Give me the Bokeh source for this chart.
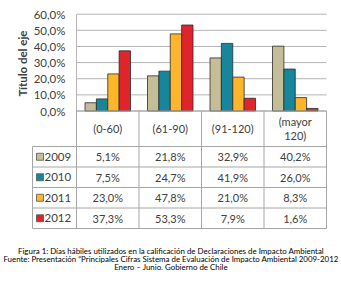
from math import pi
from bokeh.plotting import figure
from bokeh.models import Range1d, ColumnDataSource
from bokeh.core.properties import value
from bokeh.embed import file_html
from bokeh.resources import INLINE

# ---- data ----
categories = ["(0-60)", "(61-90)", "(91-120)", "(mayor\n120)"]
years = ["2009", "2010", "2011", "2012"]
v2009 = [5.1, 21.8, 32.9, 40.2]
v2010 = [7.5, 24.7, 41.9, 26.0]
v2011 = [23.0, 47.8, 21.0, 8.3]
v2012 = [37.3, 53.3, 7.9, 1.6]
series = [v2009, v2010, v2011, v2012]
colors = ["#C4BD97", "#17869B", "#FDB52B", "#E0242C"]
y_ticks = [0, 10, 20, 30, 40, 50, 60]
y_tick_labels = ["0,0%", "10,0%", "20,0%", "30,0%", "40,0%", "50,0%", "60,0%"]
axis_title = "Título del eje"
caption = [
    "Figura 1: Días hábiles utilizados en la calificación de Declaraciones de Impacto Ambiental",
    "Fuente: Presentación \u201cPrincipales Cifras Sistema de Evaluación de Impacto Ambiental 2009-2012",
    "Enero \u2013 Junio. Gobierno de Chile",
]

# ---- layout constants (pixels) ----
W, H = 341, 283
plot_left, plot_right = 76, 326
y0_px, y60_px = 110.5, 13.7
px_per_cat = (plot_right - plot_left) / len(categories)
px_per_pct = (y0_px - y60_px) / 60.0
FONT = "Lato"
TXT = "#404040"
GRID = "#B4B4B4"

x_start = -0.5 - plot_left / px_per_cat
x_end = x_start + W / px_per_cat
y_end = 60 + y60_px / px_per_pct
y_start = -(H - y0_px) / px_per_pct

p = figure(width=W, height=H, x_range=Range1d(x_start, x_end), y_range=Range1d(y_start, y_end),
           min_border=0, toolbar_location=None, output_backend="svg",
           x_axis_location=None, y_axis_location=None, outline_line_color=None)
p.xgrid.visible = False
p.ygrid.visible = False
p.extra_x_ranges = {"px": Range1d(0, W)}
p.extra_y_ranges = {"px": Range1d(H, 0)}

n = len(categories)
# gridlines
p.segment(x0=[-0.5] * len(y_ticks), x1=[n - 0.5] * len(y_ticks), y0=y_ticks, y1=y_ticks,
          line_color=GRID, line_width=1)
p.segment(x0=[-0.5], x1=[-0.5], y0=[0], y1=[60], line_color=GRID, line_width=1)

# bars
bw = 0.182
for k, (yr, vals, col) in enumerate(zip(years, series, colors)):
    off = (k - (len(years) - 1) / 2) * bw
    src = ColumnDataSource(dict(x=[i + off for i in range(n)], top=vals))
    p.vbar(x="x", top="top", bottom=0, width=bw, source=src, fill_color=col,
           line_color="#2b2b2b", line_width=0.8)

# y tick labels
p.text(x=[-0.5] * len(y_ticks), y=y_ticks, text=y_tick_labels, x_offset=-11,
       text_align="right", text_baseline="middle", text_font=value(FONT),
       text_font_size="11.5px", text_color=TXT)

# axis title
p.text(x=[22], y=[63], text=[axis_title], angle=pi / 2, x_range_name="px", y_range_name="px",
       text_align="center", text_baseline="middle", text_font=value(FONT),
       text_font_size="11.5px", text_font_style="bold", text_color=TXT)

# ---- data table ----
table_left = 32
header_bottom = 146
row_h = 20.5
row_bounds = [header_bottom + r * row_h for r in range(len(years) + 1)]
table_bottom = row_bounds[-1]
col_bounds = [i - 0.5 for i in range(n + 1)]
# vertical lines
p.segment(x0=col_bounds, x1=col_bounds, y0=[y0_px] * len(col_bounds), y1=[table_bottom] * len(col_bounds),
          x_range_name="default", y_range_name="px", line_color="#A6A6A6", line_width=1)
p.segment(x0=[table_left], x1=[table_left], y0=[header_bottom], y1=[table_bottom],
          x_range_name="px", y_range_name="px", line_color="#A6A6A6", line_width=1)
# horizontal lines
p.segment(x0=[table_left] * len(row_bounds), x1=[plot_right] * len(row_bounds), y0=row_bounds, y1=row_bounds,
          x_range_name="px", y_range_name="px", line_color="#A6A6A6", line_width=1)
p.segment(x0=[plot_left], x1=[plot_right], y0=[y0_px], y1=[y0_px],
          x_range_name="px", y_range_name="px", line_color="#A6A6A6", line_width=1)

# category header labels
p.text(x=list(range(n)), y=[(y0_px + header_bottom) / 2] * n, text=categories,
       y_range_name="px", text_align="center", text_baseline="middle",
       text_font=value(FONT), text_font_size="11px", text_color=TXT, text_line_height=1.05)

# values and legend keys
row_centers = [(row_bounds[r] + row_bounds[r + 1]) / 2 for r in range(len(years))]
for r, (yr, vals, col) in enumerate(zip(years, series, colors)):
    labels = [f"{v:.1f}%".replace(".", ",") for v in vals]
    p.text(x=list(range(n)), y=[row_centers[r]] * n, text=labels, y_range_name="px",
           text_align="center", text_baseline="middle", text_font=value(FONT),
           text_font_size="11px", text_color=TXT)
    p.rect(x=[39.5], y=[row_centers[r]], width=7, height=7, x_range_name="px", y_range_name="px",
           fill_color=col, line_color="#555555", line_width=0.8)
    p.text(x=[44], y=[row_centers[r]], text=[yr], x_range_name="px", y_range_name="px",
           text_align="left", text_baseline="middle", text_font=value(FONT),
           text_font_size="11.5px", text_color=TXT)

# caption
p.text(x=[W / 2] * len(caption), y=[250, 258.3, 266.5], text=caption, x_range_name="px", y_range_name="px",
       text_align="center", text_baseline="middle", text_font=value(FONT),
       text_font_size="7.9px", text_color="#000000")

open("out.html", "w").write(file_html(p, INLINE))
